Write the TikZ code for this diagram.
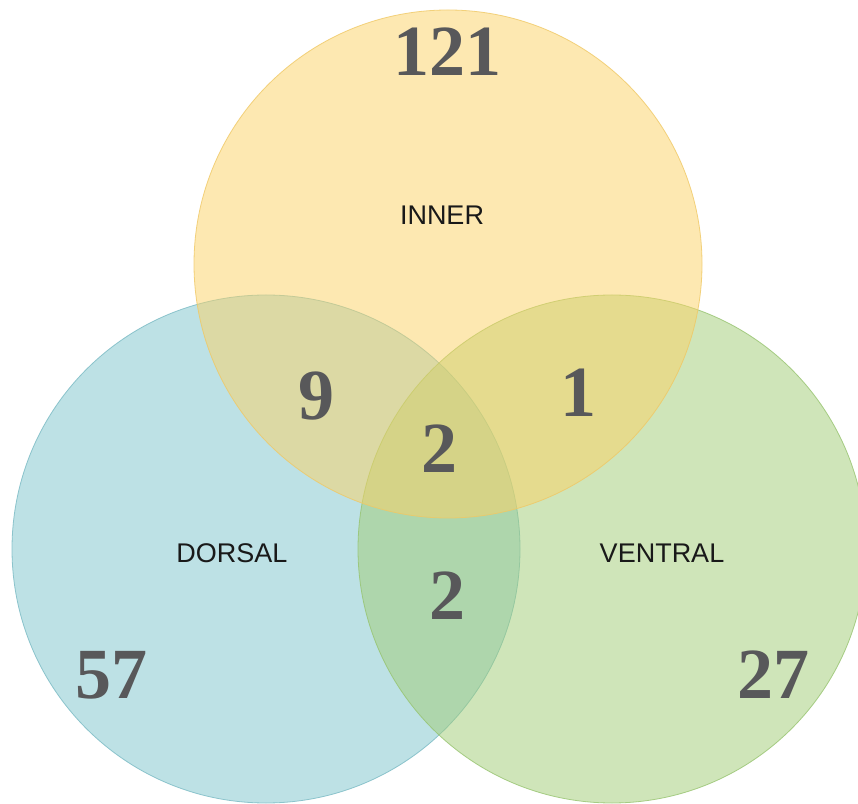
\documentclass[tikz,border=0pt]{standalone}
\usepackage{fontspec}
\setmainfont{Liberation Serif}
\setsansfont{Liberation Sans}
\definecolor{yelbase}{RGB}{252,210,100}
\definecolor{yeledge}{RGB}{240,200,100}
\definecolor{bluebase}{RGB}{125,197,205}
\definecolor{blueedge}{RGB}{120,185,195}
\definecolor{grnbase}{RGB}{161,205,117}
\definecolor{grnedge}{RGB}{150,195,110}
\definecolor{numgray}{RGB}{88,88,90}
\definecolor{labdark}{RGB}{25,25,25}
\tikzset{
  setcircle/.style={circle, minimum size=508pt, inner sep=0pt, fill opacity=0.5, draw opacity=0.8, line width=0.8pt},
  bignum/.style={inner sep=0pt, text=numgray, font=\fontsize{72}{72}\selectfont\bfseries},
  setlabel/.style={inner sep=0pt, text=labdark, font=\sffamily\fontsize{27}{27}\selectfont}
}
\begin{document}
\begin{tikzpicture}[x=1pt,y=1pt]
\useasboundingbox (0,0) rectangle (858,803);
\clip (0,0) rectangle (858,803);
\fill[white] (0,0) rectangle (858,803);
\node[setcircle, fill=bluebase, draw=blueedge] (dorsal) at (266,254) {};
\node[setcircle, fill=grnbase, draw=grnedge] (ventral) at (612,254) {};
\node[setcircle, fill=yelbase, draw=yeledge] (inner) at (448,539) {};
\node[setlabel] (innerlab) at (442,588) {INNER};
\node[setlabel] (dorsallab) at (232,250) {DORSAL};
\node[setlabel] (ventrallab) at (662,250) {VENTRAL};
\node[bignum] (n121) at (447,751) {121};
\node[bignum] (n9) at (316,407) {9};
\node[bignum] (n1) at (578,410) {1};
\node[bignum] (n2c) at (439,354) {2};
\node[bignum] (n2l) at (447,207) {2};
\node[bignum] (n57) at (111,128) {57};
\node[bignum] (n27) at (773,128) {27};
\end{tikzpicture}
\end{document}
